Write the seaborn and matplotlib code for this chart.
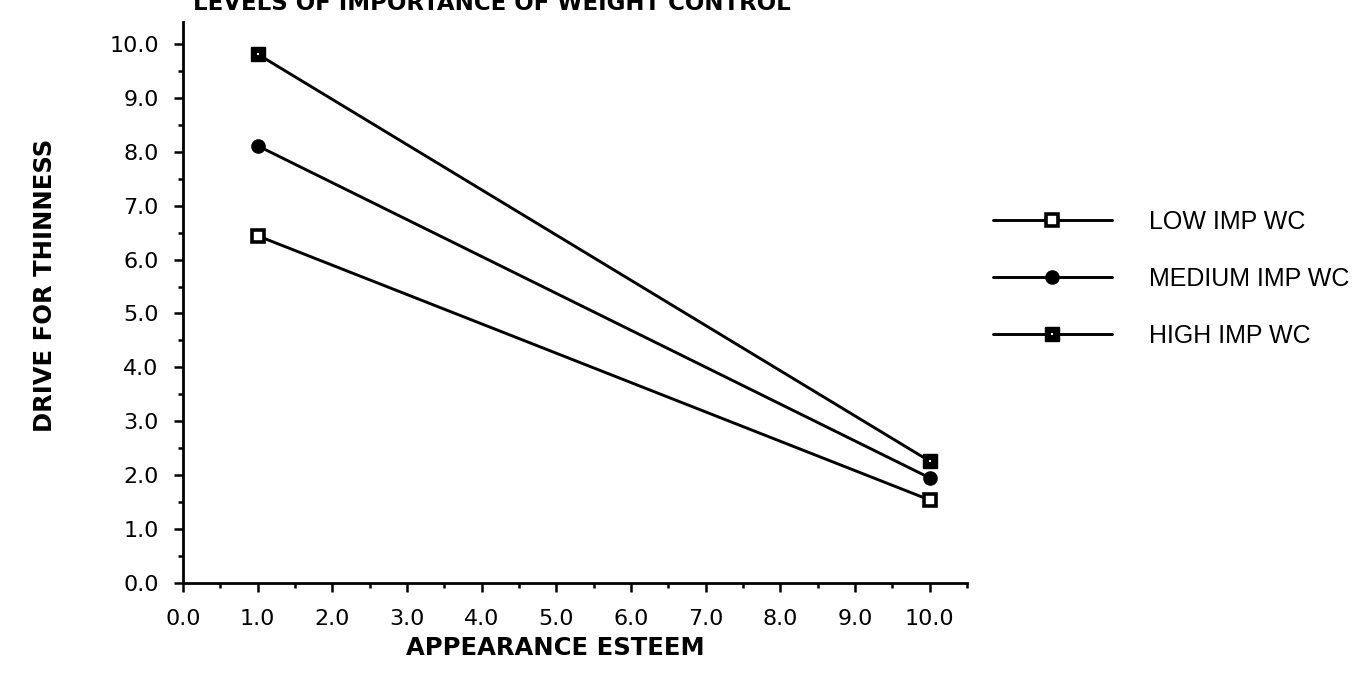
import matplotlib
matplotlib.use("Agg")
import matplotlib.pyplot as plt
from matplotlib.ticker import MultipleLocator, FormatStrFormatter
from matplotlib.legend_handler import HandlerTuple
import seaborn as sns
import pandas as pd

# ---- data ----
esteem = [1.0, 10.0]
low_imp = [6.44, 1.54]
medium_imp = [8.11, 1.95]
high_imp = [9.81, 2.26]
series_names = ["LOW IMP WC", "MEDIUM IMP WC", "HIGH IMP WC"]
title_text = "LEVELS OF IMPORTANCE OF WEIGHT CONTROL"
x_label = "APPEARANCE ESTEEM"
y_label = "DRIVE FOR THINNESS"

sns.set_style("ticks")
plt.rcParams["font.family"] = ["Liberation Sans", "DejaVu Sans"]
plt.rcParams["text.color"] = "black"
plt.rcParams["axes.labelcolor"] = "black"

fig = plt.figure(figsize=(13.68, 6.87), dpi=100)
ax = fig.add_axes([0.1338, 0.1514, 0.5731, 0.816])

lw = 2.1
styles = [
    dict(marker="s", markersize=9, markerfacecolor="white", markeredgecolor="black", markeredgewidth=2.6),
    dict(marker="o", markersize=9.5, markerfacecolor="black", markeredgecolor="black", markeredgewidth=1),
    dict(marker="s", markersize=10, markerfacecolor="black", markeredgecolor="black", markeredgewidth=1),
]
handles = []
for name, vals, st in zip(series_names, [low_imp, medium_imp, high_imp], styles):
    df = pd.DataFrame({"x": esteem, "y": vals})
    sns.lineplot(data=df, x="x", y="y", ax=ax, color="black", linewidth=lw, **st)
    h = ax.lines[-1]
    if name == "HIGH IMP WC":
        sns.lineplot(data=df, x="x", y="y", ax=ax, color="black", linewidth=0,
                     marker="s", markersize=2, markerfacecolor="white", markeredgewidth=0)
        handles.append((h, ax.lines[-1]))
    else:
        handles.append(h)

ax.set_xlim(0, 10.5)
ax.set_ylim(0, 10.4)
ax.xaxis.set_major_locator(MultipleLocator(1.0))
ax.xaxis.set_minor_locator(MultipleLocator(0.5))
ax.yaxis.set_major_locator(MultipleLocator(1.0))
ax.yaxis.set_minor_locator(MultipleLocator(0.5))
ax.xaxis.set_major_formatter(FormatStrFormatter("%.1f"))
ax.yaxis.set_major_formatter(FormatStrFormatter("%.1f"))

for s in ["top", "right"]:
    ax.spines[s].set_visible(False)
for s in ["left", "bottom"]:
    ax.spines[s].set_linewidth(2.0)
    ax.spines[s].set_color("black")

ax.tick_params(axis="both", which="major", direction="out", length=6.5, width=1.8,
               color="black", labelsize=16, labelcolor="black")
ax.tick_params(axis="both", which="minor", direction="out", length=3.5, width=1.8, color="black")
ax.tick_params(axis="y", which="major", pad=11)
ax.tick_params(axis="x", which="major", pad=12)
for lab in ax.get_xticklabels() + ax.get_yticklabels():
    lab.set_family("DejaVu Sans")

ax.set_xlabel(x_label, fontsize=17.5, fontweight="bold", family="DejaVu Sans", color="black")
ax.xaxis.set_label_coords(0.4745, -0.116)
ax.xaxis.label.set_va("center")
ax.set_ylabel(y_label, fontsize=17.5, fontweight="bold", family="DejaVu Sans", color="black")
ax.yaxis.set_label_coords(-0.176, 0.5316)
ax.yaxis.label.set_va("center")

fig.text(193 / 1368, 1 - 3 / 687, title_text, fontsize=16.5, fontweight="bold",
         family="DejaVu Sans", ha="left", va="center", color="black")

leg = fig.legend(handles, series_names, loc="center left",
                 bbox_to_anchor=(993 / 1368, 1 - 279 / 687), frameon=False,
                 handlelength=4.75, handletextpad=1.5, labelspacing=1.33,
                 borderpad=0, borderaxespad=0, fontsize=18, numpoints=1,
                 labelcolor="black",
                 handler_map={tuple: HandlerTuple(ndivide=1, pad=0)})

fig.savefig("out.png", dpi=100)
